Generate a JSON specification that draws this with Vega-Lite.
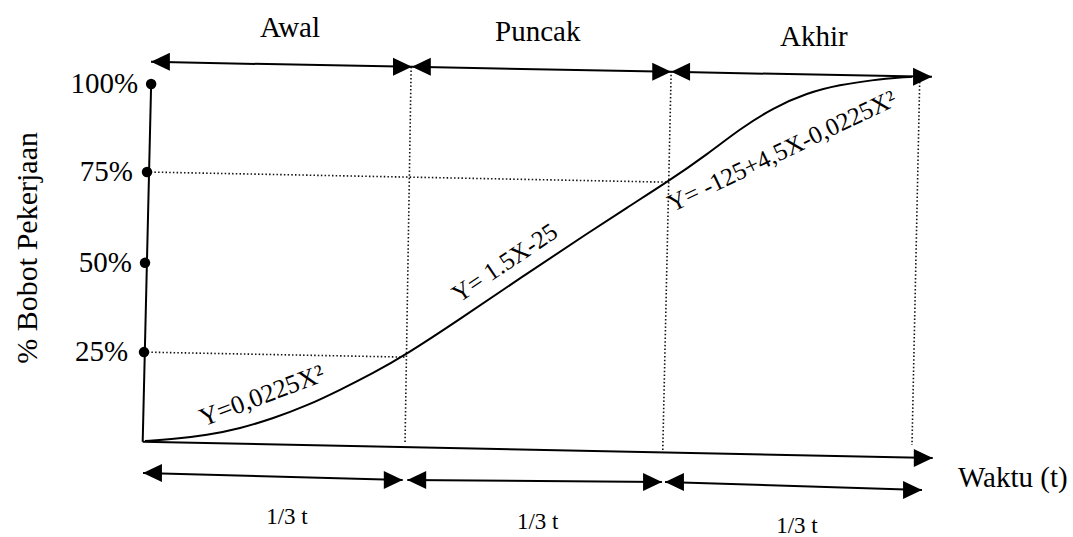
{
  "$schema": "https://vega.github.io/schema/vega-lite/v6.json",
  "width": 1073,
  "height": 537,
  "padding": 0,
  "autosize": {"type": "none"},
  "background": "white",
  "config": {"view": {"stroke": null}, "text": {"font": "Liberation Serif", "color": "black"}},
  "datasets": {
    "solid": [
      {"x": 0.8, "y": 100, "x2": -0.3, "y2": -0.2},
      {"x": -0.3, "y": -0.2, "x2": 102.7, "y2": -4.76},
      {"x": 0.78, "y": 106.2, "x2": 34.8, "y2": 104.8},
      {"x": 34.8, "y": 104.8, "x2": 68.6, "y2": 103.4},
      {"x": 68.6, "y": 103.4, "x2": 102.6, "y2": 102.0},
      {"x": -0.26, "y": -8.96, "x2": 33.6, "y2": -10.9},
      {"x": 34.2, "y": -10.9, "x2": 67.4, "y2": -11.5},
      {"x": 67.8, "y": -11.5, "x2": 101.3, "y2": -13.7}
    ],
    "dotted": [
      {"x": 34.7, "y": 104.8, "x2": 33.9, "y2": -0.84},
      {"x": 68.6, "y": 103.6, "x2": 67.5, "y2": -3.1},
      {"x": 101.0, "y": 100.6, "x2": 100.0, "y2": -1.1},
      {"x": 0.26, "y": 75.35, "x2": 68.2, "y2": 72.5},
      {"x": -0.13, "y": 24.9, "x2": 33.9, "y2": 23.5}
    ],
    "curve": [
      {"x": 0, "y": 0},
      {"x": 3.65, "y": 0.5},
      {"x": 8.08, "y": 1.6},
      {"x": 12.39, "y": 3.5},
      {"x": 16.69, "y": 6.3},
      {"x": 21.12, "y": 9.9},
      {"x": 25.42, "y": 14.3},
      {"x": 29.73, "y": 19.0},
      {"x": 34.03, "y": 24.2},
      {"x": 40.7, "y": 33.6},
      {"x": 49.3, "y": 46.2},
      {"x": 58.0, "y": 58.6},
      {"x": 63.0, "y": 65.6},
      {"x": 68.2, "y": 72.7},
      {"x": 73.3, "y": 80.3},
      {"x": 77.6, "y": 87.5},
      {"x": 81.9, "y": 93.3},
      {"x": 86.3, "y": 97.5},
      {"x": 90.6, "y": 99.8},
      {"x": 94.9, "y": 101.1},
      {"x": 98.4, "y": 101.9},
      {"x": 100, "y": 102.0}
    ],
    "dots": [
      {"x": 0.8, "y": 100},
      {"x": 0.26, "y": 75.35},
      {"x": 0.0, "y": 49.9},
      {"x": -0.13, "y": 24.9}
    ],
    "heads": [
      {"x": 0.78, "y": 106.2, "dir": "left"},
      {"x": 34.8, "y": 104.8, "dir": "right"},
      {"x": 34.8, "y": 104.8, "dir": "left"},
      {"x": 68.6, "y": 103.4, "dir": "right"},
      {"x": 68.6, "y": 103.4, "dir": "left"},
      {"x": 102.6, "y": 102.0, "dir": "right"},
      {"x": 102.7, "y": -4.76, "dir": "right"},
      {"x": -0.26, "y": -8.96, "dir": "left"},
      {"x": 33.6, "y": -10.9, "dir": "right"},
      {"x": 34.2, "y": -10.9, "dir": "left"},
      {"x": 67.4, "y": -11.5, "dir": "right"},
      {"x": 67.8, "y": -11.5, "dir": "left"},
      {"x": 101.3, "y": -13.7, "dir": "right"}
    ],
    "labels": [
      {"role": "phase", "x": 18.9, "y": 115.7, "text": "Awal"},
      {"role": "phase", "x": 51.2, "y": 114.6, "text": "Puncak"},
      {"role": "phase", "x": 87.2, "y": 113.2, "text": "Akhir"},
      {"role": "third", "x": 18.5, "y": -21.3, "text": "1/3 t"},
      {"role": "third", "x": 51.2, "y": -22.7, "text": "1/3 t"},
      {"role": "third", "x": 85.0, "y": -23.8, "text": "1/3 t"},
      {"role": "xtitle", "x": 106.0, "y": -10.4, "text": "Waktu (t)"},
      {"role": "tick", "x": -0.9, "y": 100, "text": "100%"},
      {"role": "tick", "x": -1.56, "y": 75.35, "text": "75%"},
      {"role": "tick", "x": -1.7, "y": 49.9, "text": "50%"},
      {"role": "tick", "x": -2.2, "y": 24.9, "text": "25%"},
      {"role": "ytitle", "x": -15.25, "y": 54.1, "text": "% Bobot Pekerjaan"},
      {"role": "eq1", "x": 15.25, "y": 12.6, "text": "Y=0,0225X²"},
      {"role": "eq2", "x": 46.9, "y": 49.9, "text": "Y= 1.5X-25"},
      {"role": "eq3", "x": 83.05, "y": 81.2, "text": "Y= -125+4,5X-0,0225X²"}
    ]
  },
  "encoding": {
    "x": {"field": "x", "type": "quantitative", "axis": null, "scale": {"domain": [-18.905, 120.99], "nice": false, "zero": false}},
    "y": {"field": "y", "type": "quantitative", "axis": null, "scale": {"domain": [-26.89, 123.53], "nice": false, "zero": false}}
  },
  "layer": [
    {
      "data": {"name": "dotted"},
      "mark": {"type": "rule", "color": "#111111", "strokeWidth": 1.6, "strokeDash": [1.5, 2.2]},
      "encoding": {"x2": {"field": "x2"}, "y2": {"field": "y2"}}
    },
    {
      "data": {"name": "solid"},
      "mark": {"type": "rule", "color": "black", "strokeWidth": 2},
      "encoding": {"x2": {"field": "x2"}, "y2": {"field": "y2"}}
    },
    {
      "data": {"name": "curve"},
      "mark": {"type": "line", "color": "black", "strokeWidth": 2, "interpolate": "basis"}
    },
    {
      "data": {"name": "dots"},
      "mark": {"type": "point", "shape": "circle", "filled": true, "color": "black", "size": 110, "opacity": 1}
    },
    {
      "data": {"name": "heads"},
      "mark": {"type": "point", "filled": true, "color": "black", "size": 324, "opacity": 1, "strokeWidth": 0},
      "encoding": {
        "shape": {"field": "dir", "type": "nominal", "legend": null,
          "scale": {"domain": ["left", "right"], "range": ["M0,0L2.1,-1L2.1,1Z", "M0,0L-2.1,-1L-2.1,1Z"]}}
      }
    },
    {
      "data": {"name": "labels"},
      "transform": [{"filter": "datum.role === 'phase'"}],
      "mark": {"type": "text", "fontSize": 29, "align": "center", "baseline": "middle"},
      "encoding": {"text": {"field": "text"}}
    },
    {
      "data": {"name": "labels"},
      "transform": [{"filter": "datum.role === 'third'"}],
      "mark": {"type": "text", "fontSize": 23, "align": "center", "baseline": "middle"},
      "encoding": {"text": {"field": "text"}}
    },
    {
      "data": {"name": "labels"},
      "transform": [{"filter": "datum.role === 'xtitle'"}],
      "mark": {"type": "text", "fontSize": 29, "align": "left", "baseline": "middle"},
      "encoding": {"text": {"field": "text"}}
    },
    {
      "data": {"name": "labels"},
      "transform": [{"filter": "datum.role === 'tick'"}],
      "mark": {"type": "text", "fontSize": 29, "align": "right", "baseline": "middle"},
      "encoding": {"text": {"field": "text"}}
    },
    {
      "data": {"name": "labels"},
      "transform": [{"filter": "datum.role === 'ytitle'"}],
      "mark": {"type": "text", "fontSize": 30, "align": "center", "baseline": "middle", "angle": 270},
      "encoding": {"text": {"field": "text"}}
    },
    {
      "data": {"name": "labels"},
      "transform": [{"filter": "datum.role === 'eq1'"}],
      "mark": {"type": "text", "fontSize": 26, "align": "center", "baseline": "middle", "angle": -20.7},
      "encoding": {"text": {"field": "text"}}
    },
    {
      "data": {"name": "labels"},
      "transform": [{"filter": "datum.role === 'eq2'"}],
      "mark": {"type": "text", "fontSize": 25, "align": "center", "baseline": "middle", "angle": -34},
      "encoding": {"text": {"field": "text"}}
    },
    {
      "data": {"name": "labels"},
      "transform": [{"filter": "datum.role === 'eq3'"}],
      "mark": {"type": "text", "fontSize": 25, "align": "center", "baseline": "middle", "angle": -25.5},
      "encoding": {"text": {"field": "text"}}
    }
  ]
}
